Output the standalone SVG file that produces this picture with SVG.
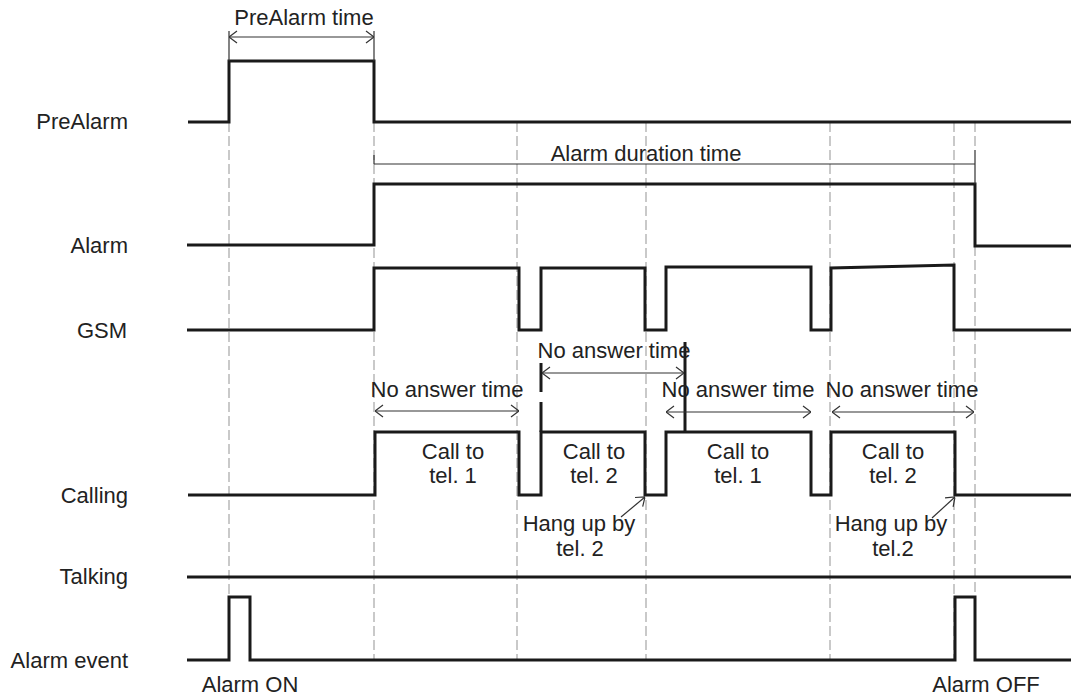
<svg xmlns="http://www.w3.org/2000/svg" width="1071" height="698" viewBox="0 0 1071 698">
<defs>
<style>
text{font-family:"Liberation Sans",Arial,sans-serif;font-size:22px;fill:#222}
.lbl{text-anchor:end}
.c{text-anchor:middle}
.sig{fill:none;stroke:#1a1a1a;stroke-width:3;stroke-linejoin:miter}
.dash{fill:none;stroke:#a6a6a6;stroke-width:1.2;stroke-dasharray:10 4}
.dim{fill:none;stroke:#333;stroke-width:1.2}
.tick{fill:none;stroke:#1a1a1a;stroke-width:3}
</style>
<marker id="ah" viewBox="0 0 10 14" refX="10" refY="7" markerWidth="10" markerHeight="14" markerUnits="userSpaceOnUse" orient="auto-start-reverse">
<path d="M2,1 L10,7 L2,13" fill="none" stroke="#333" stroke-width="1.2"/>
</marker>
</defs>
<rect width="1071" height="698" fill="#fff"/>
<g id="gridlines">
<path class="dash" d="M229,122V597M374,122V660M517,122V660M646,122V660M830,122V660M954,122V660M975,122V150M975,246V597"/>
</g>
<g id="labels">
<text class="lbl" x="128" y="129">PreAlarm</text>
<text class="lbl" x="128" y="253">Alarm</text>
<text class="lbl" x="127" y="338">GSM</text>
<text class="lbl" x="128" y="503">Calling</text>
<text class="lbl" x="128" y="584">Talking</text>
<text class="lbl" x="128" y="668">Alarm event</text>
</g>
<g id="sig-prealarm"><path class="sig" d="M188,122H229V61H374V122H1071"/></g>
<g id="sig-alarm"><path class="sig" d="M187,245H374V184H975V246H1071"/></g>
<g id="sig-gsm"><path class="sig" d="M187,330H374V268H519V330H541V268H645V330H666V267H811V330H831V268L954,265V330H1071"/></g>
<g id="sig-calling"><path class="sig" d="M188,495H375V432H519V495H541V432H645V495H666V432H811V495H831V432H955V495H1071"/></g>
<g id="sig-talking"><path class="sig" d="M187,577H1071"/></g>
<g id="sig-alarmevent"><path class="sig" d="M187,660H229V597H250V660H955V597H975V660H1071"/></g>
<g id="connectors">
<path class="dim" d="M229,31V61M374,31V61"/>
<path class="dim" d="M229,37H374" marker-start="url(#ah)" marker-end="url(#ah)"/>
<path class="dim" d="M374,155V164M975,150V184M374,164H975"/>
<path class="dim" d="M375,411H519" marker-start="url(#ah)" marker-end="url(#ah)"/>
<path class="tick" d="M541,363V392M541,402V432M685,342V432"/>
<path class="dim" d="M542,373H684" marker-start="url(#ah)" marker-end="url(#ah)"/>
<path class="dim" d="M666,412H811" marker-start="url(#ah)" marker-end="url(#ah)"/>
<path class="dim" d="M832,412H974" marker-start="url(#ah)" marker-end="url(#ah)"/>
<path class="dim" d="M621,517L645,497" marker-end="url(#ah)"/>
<path class="dim" d="M932,518L955,497" marker-end="url(#ah)"/>
</g>
<g id="annotations">
<text class="c" x="304" y="25">PreAlarm time</text>
<text class="c" x="646" y="161">Alarm duration time</text>
<text class="c" x="447" y="397">No answer time</text>
<text class="c" x="614" y="358">No answer time</text>
<text class="c" x="738" y="397">No answer time</text>
<text class="c" x="902" y="397">No answer time</text>
<text class="c" x="453" y="459">Call to</text>
<text class="c" x="453" y="483">tel. 1</text>
<text class="c" x="594" y="459">Call to</text>
<text class="c" x="594" y="483">tel. 2</text>
<text class="c" x="738" y="459">Call to</text>
<text class="c" x="738" y="483">tel. 1</text>
<text class="c" x="893" y="459">Call to</text>
<text class="c" x="893" y="483">tel. 2</text>
<text class="c" x="579" y="531">Hang up by</text>
<text class="c" x="580" y="556">tel. 2</text>
<text class="c" x="891" y="531">Hang up by</text>
<text class="c" x="893" y="556">tel.2</text>
<text class="c" x="250" y="692">Alarm ON</text>
<text class="c" x="986" y="692">Alarm OFF</text>
</g>
</svg>
